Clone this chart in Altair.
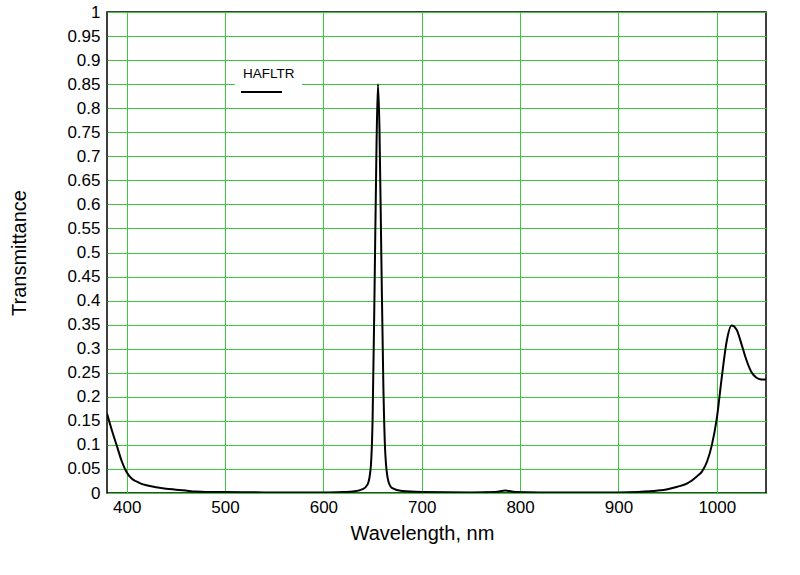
import altair as alt
import pandas as pd

wavelength = [380, 385, 390, 395, 400, 405, 410, 415, 420, 430, 440, 450, 460, 470, 480, 500,
              550, 600, 620, 630, 640, 645, 648, 650, 652, 654, 655.5, 657, 659, 661, 663, 666,
              670, 680, 700, 750, 775, 785, 795, 820, 850, 900, 920, 940, 950, 960, 970, 980,
              985, 990, 995, 1000, 1005, 1010, 1015, 1020, 1025, 1030, 1035, 1040, 1045, 1050]
transmittance = [0.165, 0.13, 0.098, 0.066, 0.043, 0.03, 0.024, 0.019, 0.016, 0.012, 0.009, 0.007,
                 0.005, 0.003, 0.002, 0.002, 0.001, 0.001, 0.002, 0.003, 0.008, 0.018, 0.05, 0.15,
                 0.42, 0.72, 0.85, 0.76, 0.48, 0.22, 0.08, 0.025, 0.01, 0.004, 0.002, 0.001, 0.002,
                 0.005, 0.002, 0.001, 0.001, 0.001, 0.002, 0.005, 0.008, 0.013, 0.02, 0.035, 0.045,
                 0.065, 0.10, 0.155, 0.24, 0.315, 0.348, 0.34, 0.31, 0.277, 0.252, 0.24, 0.236, 0.236]
x_ticks = [400, 500, 600, 700, 800, 900, 1000]
y_ticks = [round(i * 0.05, 2) for i in range(21)]
series_name = "HAFLTR"

df = pd.DataFrame({"wl": wavelength, "T": transmittance})
FONT = "Liberation Sans"
GRID = "#3cc83c"

line = alt.Chart(df).mark_line(color="black", strokeWidth=2, interpolate="monotone", clip=True).encode(
    x=alt.X("wl:Q", scale=alt.Scale(domain=[380, 1050], nice=False, zero=False),
            axis=alt.Axis(values=x_ticks, title="Wavelength, nm", grid=True, gridColor=GRID,
                          gridWidth=1, domain=False, ticks=False, labelFont=FONT, labelFontSize=17,
                          labelColor="black", labelPadding=6, titleFont=FONT,
                          titleFontSize=20, titleFontWeight="normal", titleColor="black",
                          titlePadding=8, titleX=315, format="d")),
    y=alt.Y("T:Q", scale=alt.Scale(domain=[0, 1], nice=False),
            axis=alt.Axis(values=y_ticks, title="Transmittance", grid=True, gridColor=GRID,
                          gridWidth=1, domain=False, ticks=False, labelFont=FONT, labelFontSize=17,
                          labelColor="black", labelPadding=7, titleFont=FONT, titleFontSize=20,
                          titleFontWeight="normal", titleColor="black", titlePadding=37,
                          labelExpr="datum.value == 0 ? '0' : datum.value == 1 ? '1' : format(datum.value, '.2~f')")),
)

legend_bg = alt.Chart(pd.DataFrame({"a": [0]})).mark_rect(color="white").encode(
    x=alt.value(128), x2=alt.value(195), y=alt.value(50), y2=alt.value(93))
legend_line = alt.Chart(pd.DataFrame({"a": [0]})).mark_rule(color="black", strokeWidth=2).encode(
    x=alt.value(134), x2=alt.value(175), y=alt.value(80))
legend_text = alt.Chart(pd.DataFrame({"name": [series_name]})).mark_text(
    align="left", baseline="alphabetic", font=FONT, fontSize=13.5, color="black").encode(
    x=alt.value(136), y=alt.value(66), text="name:N")

chart = alt.layer(legend_bg, line, legend_line, legend_text).properties(
    width=659, height=481,
    autosize=alt.AutoSizeParams(type="none"),
    padding={"left": 107, "top": 12, "right": 34, "bottom": 82},
    background="white",
).configure_view(stroke="black", strokeWidth=1.5)

chart.save("out.html", embed_options={"renderer": "svg", "actions": False})
